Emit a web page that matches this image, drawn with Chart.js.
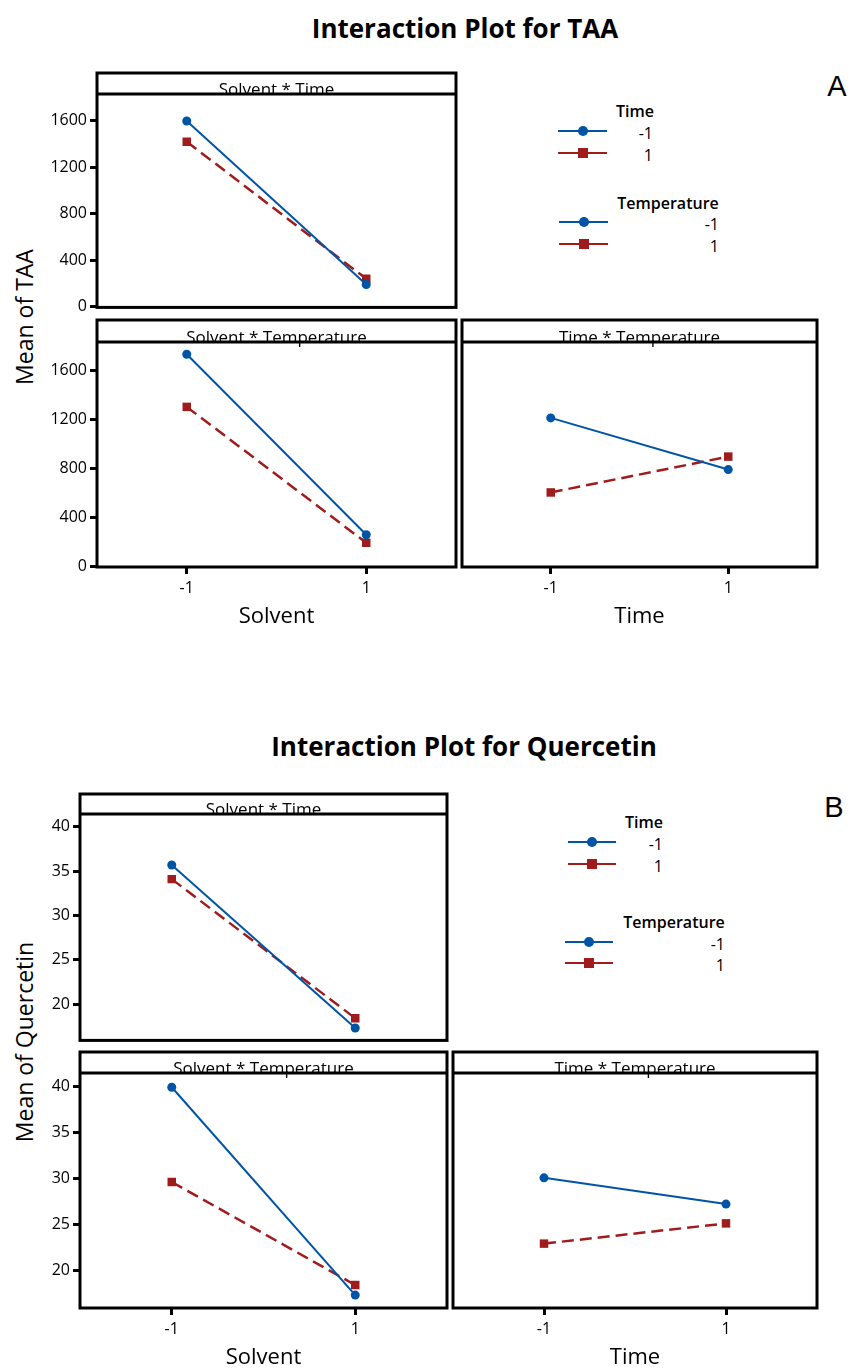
<!DOCTYPE html>
<html>
<head>
<meta charset="utf-8">
<title>Interaction Plots</title>
<script src="https://cdn.jsdelivr.net/npm/chart.js@4.4.0/dist/chart.umd.min.js"></script>
<style>
  body { margin: 0; background: #fff; }
  #page { position: relative; width: 862px; height: 1370px; overflow: hidden; font-family: 'Open Sans', sans-serif; color: #000; }
  .txt { position: absolute; white-space: nowrap; line-height: 1; }
  .center { transform: translate(-50%, -50%); }
  .figtitle { font-size: 26px; font-weight: 700; }
  .ytitle { font-size: 23px; transform: translate(-50%, -50%) rotate(-90deg); }
  .letter { font-family: 'Liberation Sans', Arial, sans-serif; font-size: 29px; }
  .lghead { font-size: 16px; font-weight: 600; }
  .lglabel { font-size: 16px; text-align: right; }
</style>
</head>
<body>
<div id="page">
  <div class="txt center figtitle" style="left:465px; top:28px;">Interaction Plot for TAA</div>
  <div class="txt center ytitle" style="left:24px; top:317px;">Mean of TAA</div>
  <div class="txt center letter" style="left:837px; top:86px;">A</div>

  <div class="txt center figtitle" style="left:464px; top:746px;">Interaction Plot for Quercetin</div>
  <div class="txt center ytitle" style="left:24px; top:1042px;">Mean of Quercetin</div>
  <div class="txt center letter" style="left:834px; top:807px;">B</div>
</div>

<script>
// ---------------- data ----------------
const levels = [-1, 1];

// TAA (figure A)
const taaTicks = [0, 400, 800, 1200, 1600];
const taaSolventTimeLow = [1597, 189];     // Time = -1
const taaSolventTimeHigh = [1419, 238];    // Time = 1
const taaSolventTempLow = [1730, 255];     // Temperature = -1
const taaSolventTempHigh = [1300, 190];    // Temperature = 1
const taaTimeTempLow = [1210, 788];
const taaTimeTempHigh = [601, 894];

// Quercetin (figure B)
const quTicks = [20, 25, 30, 35, 40];
const quSolventTimeLow = [35.7, 17.3];
const quSolventTimeHigh = [34.1, 18.4];
const quSolventTempLow = [39.9, 17.3];
const quSolventTempHigh = [29.6, 18.4];
const quTimeTempLow = [30.05, 27.2];
const quTimeTempHigh = [22.9, 25.1];

const BLUE = '#0054a6';
const RED = '#a01c1c';
const FONT = "'Open Sans', sans-serif";

Chart.defaults.font.family = FONT;
Chart.defaults.color = '#000';

// draws the Minitab style panel box with its header strip
const panelFrame = {
  id: 'panelFrame',
  afterDraw(chart, args, opts) {
    const { ctx, chartArea: a } = chart;
    const top = a.top - opts.headH;
    ctx.save();
    ctx.fillStyle = '#000';
    ctx.font = '17px ' + FONT;
    ctx.textAlign = 'center';
    ctx.textBaseline = 'alphabetic';
    ctx.fillText(opts.text, (a.left + a.right) / 2, a.top + 1);
    ctx.strokeStyle = '#000';
    ctx.lineWidth = 3;
    ctx.strokeRect(a.left, top, a.right - a.left, a.bottom - top);
    ctx.beginPath();
    ctx.moveTo(a.left, a.top);
    ctx.lineTo(a.right, a.top);
    ctx.stroke();
    ctx.restore();
  }
};

function toPoints(vals) {
  return levels.map((x, i) => ({ x: x, y: vals[i] }));
}

function buildPanel(p) {
  const page = document.getElementById('page');
  const padL = p.showY ? 70 : 4;
  const padR = 4;
  const headH = p.head - p.top;
  const axisH = p.xTitle ? p.axisH : 2;
  const w = padL + (p.right - p.left) + padR;
  const h = (p.bottom - p.top) + 2 + axisH;

  const cv = document.createElement('canvas');
  cv.width = w;
  cv.height = h;
  cv.style.cssText = `position:absolute;left:${p.left - padL}px;top:${p.top - 2}px;width:${w}px;height:${h}px;`;
  page.appendChild(cv);

  new Chart(cv, {
    type: 'line',
    data: {
      datasets: [{
        data: toPoints(p.low),
        borderColor: BLUE,
        backgroundColor: BLUE,
        borderWidth: 2,
        pointStyle: 'circle',
        pointRadius: 4.5,
        pointBorderWidth: 0
      }, {
        data: toPoints(p.high),
        borderColor: RED,
        backgroundColor: RED,
        borderWidth: 2.5,
        borderDash: [12, 6],
        pointStyle: 'rect',
        pointRadius: 6,
        pointBorderWidth: 0
      }]
    },
    options: {
      responsive: false,
      animation: false,
      events: [],
      layout: {
        padding: { left: p.showY ? 0 : padL, right: padR, top: headH + 2, bottom: p.xTitle ? 0 : 2 }
      },
      plugins: {
        legend: { display: false },
        tooltip: { enabled: false },
        panelFrame: { headH: headH, text: p.header }
      },
      scales: {
        x: {
          type: 'linear',
          display: !!p.xTitle,
          min: -2,
          max: 2,
          afterBuildTicks: s => { s.ticks = levels.map(v => ({ value: v })); },
          afterFit: s => { s.height = axisH; },
          grid: { display: true, drawOnChartArea: false, drawTicks: true, tickLength: 7, lineWidth: 3, color: '#000' },
          border: { display: false },
          ticks: { font: { size: 16 }, padding: 5, maxRotation: 0, callback: v => String(v) },
          title: { display: !!p.xTitle, text: p.xTitle, font: { size: 22 }, padding: 0 }
        },
        y: {
          type: 'linear',
          display: p.showY,
          min: p.yMin,
          max: p.yMax,
          afterBuildTicks: s => { s.ticks = p.yTicks.map(v => ({ value: v })); },
          afterFit: s => { s.width = padL; },
          grid: { display: true, drawOnChartArea: false, drawTicks: true, tickLength: 7, lineWidth: 3, color: '#000' },
          border: { display: false },
          ticks: { font: { size: 16 }, padding: 3, callback: v => String(v) }
        }
      }
    },
    plugins: [panelFrame]
  });
}

// ---------------- figure A ----------------
buildPanel({ left: 97, right: 458, top: 73, head: 94, bottom: 318, header: 'Solvent * Time',
  showY: true, xTitle: '', yMin: -8, yMax: 1830, yTicks: taaTicks,
  low: taaSolventTimeLow, high: taaSolventTimeHigh });
buildPanel({ left: 97, right: 458, top: 320, head: 342, bottom: 567, header: 'Solvent * Temperature',
  showY: true, xTitle: 'Solvent', axisH: 63, yMin: -8, yMax: 1830, yTicks: taaTicks,
  low: taaSolventTempLow, high: taaSolventTempHigh });
buildPanel({ left: 458, right: 819, top: 320, head: 342, bottom: 567, header: 'Time * Temperature',
  showY: false, xTitle: 'Time', axisH: 63, yMin: -8, yMax: 1830, yTicks: taaTicks,
  low: taaTimeTempLow, high: taaTimeTempHigh });

// ---------------- figure B ----------------
buildPanel({ left: 80, right: 449, top: 794, head: 814, bottom: 1051, header: 'Solvent * Time',
  showY: true, xTitle: '', yMin: 15.9, yMax: 41.45, yTicks: quTicks,
  low: quSolventTimeLow, high: quSolventTimeHigh });
buildPanel({ left: 80, right: 449, top: 1052, head: 1073, bottom: 1308, header: 'Solvent * Temperature',
  showY: true, xTitle: 'Solvent', axisH: 63, yMin: 15.9, yMax: 41.45, yTicks: quTicks,
  low: quSolventTempLow, high: quSolventTempHigh });
buildPanel({ left: 449, right: 819, top: 1052, head: 1073, bottom: 1308, header: 'Time * Temperature',
  showY: false, xTitle: 'Time', axisH: 63, yMin: 15.9, yMax: 41.45, yTicks: quTicks,
  low: quTimeTempLow, high: quTimeTempHigh });

// ---------------- legends ----------------
function legendHead(text, cx, cy) {
  const d = document.createElement('div');
  d.className = 'txt center lghead';
  d.style.left = cx + 'px';
  d.style.top = cy + 'px';
  d.textContent = text;
  document.getElementById('page').appendChild(d);
}

function legendItem(x0, x1, y, color, round, label, labelRight) {
  const page = document.getElementById('page');
  const line = document.createElement('div');
  line.style.cssText = `position:absolute;left:${x0}px;top:${y - 1.25}px;width:${x1 - x0}px;height:2.5px;background:${color};`;
  page.appendChild(line);
  const mk = document.createElement('div');
  const cx = (x0 + x1) / 2;
  mk.style.cssText = `position:absolute;left:${cx - 5}px;top:${y - 5}px;width:10px;height:10px;background:${color};border-radius:${round ? '50%' : '0'};`;
  page.appendChild(mk);
  const t = document.createElement('div');
  t.className = 'txt lglabel';
  t.style.right = (862 - labelRight) + 'px';
  t.style.top = (y + 2 - 8) + 'px';
  t.style.lineHeight = '16px';
  t.textContent = label;
  page.appendChild(t);
}

legendHead('Time', 635, 111);
legendItem(558, 607, 131, BLUE, true, String(levels[0]), 653);
legendItem(558, 607, 153, RED, false, String(levels[1]), 653);
legendHead('Temperature', 668, 203);
legendItem(559, 608, 222, BLUE, true, String(levels[0]), 719);
legendItem(559, 608, 244, RED, false, String(levels[1]), 719);

legendHead('Time', 644, 822);
legendItem(568, 616, 842, BLUE, true, String(levels[0]), 663);
legendItem(568, 616, 864, RED, false, String(levels[1]), 663);
legendHead('Temperature', 674, 922);
legendItem(565, 613, 942, BLUE, true, String(levels[0]), 725);
legendItem(565, 613, 963, RED, false, String(levels[1]), 725);
</script>
</body>
</html>
